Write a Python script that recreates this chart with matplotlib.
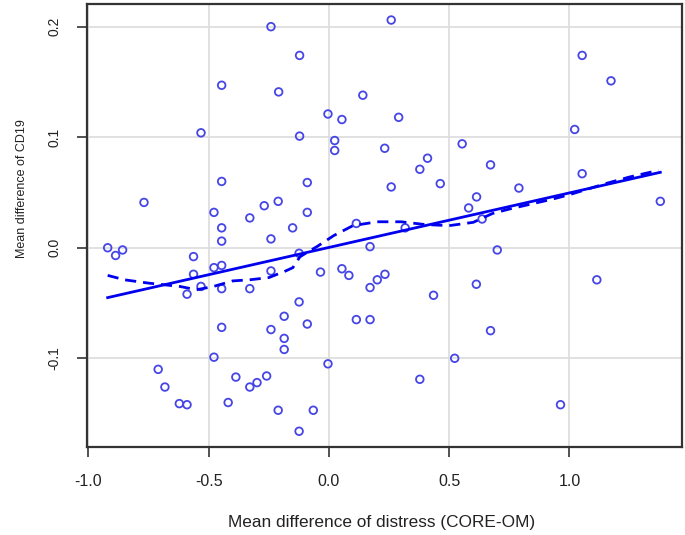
import numpy as np
import matplotlib
matplotlib.use("Agg")
from matplotlib import pyplot as plt
from matplotlib import font_manager

plt.rcParams['font.family'] = ['Liberation Sans', 'DejaVu Sans']

# points
distress = [-0.241, -0.446, -0.209, -0.532, -0.446, -0.769, -0.478, -0.269, -0.211, -0.329,
            -0.446, 0.259, -0.122, 0.141, -0.004, 0.054, 0.290, -0.122, 0.024, 0.024,
            0.232, 0.554, 0.410, 0.378, -0.090, 0.463, 0.259, -0.090, -0.151, 0.114,
            0.317, 0.581, 0.614, 1.053, 1.173, 1.022, 0.672, 1.053, 0.790, 1.378,
            0.637, -0.446, -0.241, -0.920, -0.887, -0.858, -0.563, -0.478, -0.446, -0.563,
            -0.241, -0.590, -0.532, -0.446, -0.329, -0.446, -0.241, -0.186, -0.186, -0.186,
            -0.478, -0.710, -0.682, -0.387, -0.329, -0.299, -0.259, -0.622, -0.590, -0.419,
            -0.211, 0.171, -0.124, -0.035, 0.054, 0.083, 0.233, 0.201, 0.171, 0.435,
            0.613, -0.124, -0.090, 0.114, 0.171, -0.004, 0.523, 0.378, -0.065, -0.124,
            0.700, 1.114, 0.672, 0.963]
cd19 = [0.200, 0.147, 0.141, 0.104, 0.060, 0.041, 0.032, 0.038, 0.042, 0.027,
        0.018, 0.206, 0.174, 0.138, 0.121, 0.116, 0.118, 0.101, 0.097, 0.088,
        0.090, 0.094, 0.081, 0.071, 0.059, 0.058, 0.055, 0.032, 0.018, 0.022,
        0.018, 0.036, 0.046, 0.174, 0.151, 0.107, 0.075, 0.067, 0.054, 0.042,
        0.026, 0.006, 0.008, 0.000, -0.007, -0.002, -0.008, -0.018, -0.016, -0.024,
        -0.021, -0.042, -0.035, -0.037, -0.037, -0.072, -0.074, -0.062, -0.082, -0.092,
        -0.099, -0.110, -0.126, -0.117, -0.126, -0.122, -0.116, -0.141, -0.142, -0.140,
        -0.147, 0.001, -0.005, -0.022, -0.019, -0.025, -0.024, -0.029, -0.036, -0.043,
        -0.033, -0.049, -0.069, -0.065, -0.065, -0.105, -0.100, -0.119, -0.147, -0.166,
        -0.002, -0.029, -0.075, -0.142]

# smoother (dashed)
smooth_x = [-0.92, -0.85, -0.75, -0.62, -0.55, -0.48, -0.40, -0.33, -0.25, -0.18,
            -0.15, -0.12, -0.05, 0.02, 0.10, 0.20, 0.30, 0.40, 0.50, 0.60,
            0.68, 0.75, 0.85, 0.93, 1.00, 1.15, 1.25, 1.37]
smooth_y = [-0.025, -0.029, -0.032, -0.035, -0.038, -0.035, -0.030, -0.029, -0.027, -0.021,
            -0.018, -0.008, 0.001, 0.011, 0.020, 0.0235, 0.0235, 0.021, 0.020, 0.023,
            0.031, 0.035, 0.040, 0.044, 0.048, 0.058, 0.064, 0.070]

x = np.array(distress)
y = np.array(cd19)

# narrow face for the y label if it is there
names = {f.name for f in font_manager.fontManager.ttflist}
if 'Liberation Sans Narrow' in names:
    ylab_font, ylab_size = ['Liberation Sans Narrow', 'Liberation Sans'], 10.8
else:
    ylab_font, ylab_size = ['Liberation Sans', 'DejaVu Sans'], 9

fig = plt.figure(figsize=(6.85, 5.35), dpi=100)
ax = fig.add_axes([0.1277, 0.165, 0.8675, 0.8275])

ax.grid(True, color='#dcdcdc', linewidth=1.2)
ax.set_axisbelow(True)

ax.scatter(x, y, s=30, facecolors='none', edgecolors='#4646e6', linewidths=1.3, zorder=3)

# linear fit
b, a = np.polyfit(x, y, 1)
xl = np.array([x.min(), x.max()])
ax.plot(xl, a + b * xl, color='#0000ee', linewidth=2.0, zorder=4)
ax.plot(smooth_x, smooth_y, color='#0000ee', linewidth=2.0, linestyle=(0, (4, 2.5)), zorder=4)

ax.set_xlim(-1.004, 1.467)
ax.set_ylim(-0.180, 0.2205)
ax.set_xticks([-1.0, -0.5, 0.0, 0.5, 1.0])
ax.set_xticklabels(['-1.0', '-0.5', '0.0', '0.5', '1.0'])
ax.set_yticks([-0.1, 0.0, 0.1, 0.2])
ax.set_yticklabels(['-0.1', '0.0', '0.1', '0.2'], rotation=90, va='center')
ax.tick_params(axis='x', length=7, width=1.2, color='#333333', labelsize=11.5,
               labelcolor='#222222', pad=12.5)
ax.tick_params(axis='y', length=7, width=1.2, color='#333333', labelsize=10,
               labelcolor='#222222', pad=12)
for s in ax.spines.values():
    s.set_color('#333333')
    s.set_linewidth(1.6)

fig.text(382 / 685, 1 - 522 / 535, 'Mean difference of distress (CORE-OM)',
         ha='center', va='center', fontsize=12.4, color='#222222')
fig.text(22 / 685, 1 - 189 / 535, 'Mean difference of CD19', rotation=90,
         ha='center', va='center', fontsize=ylab_size, family=ylab_font, color='#222222')

fig.savefig('out.png', dpi=100)
